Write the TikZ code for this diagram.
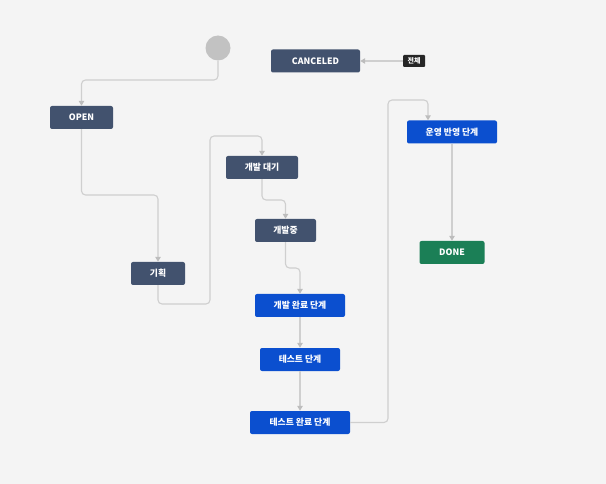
\documentclass[tikz,border=0pt]{standalone}
\usepackage{fontspec}
\setmainfont{Noto Sans CJK KR}
\usetikzlibrary{arrows.meta}
\definecolor{bg}{HTML}{F4F4F4}
\definecolor{darkst}{HTML}{42526E}
\definecolor{bluest}{HTML}{0B4FCF}
\definecolor{greenst}{HTML}{1B7F56}
\definecolor{lineg}{HTML}{CFCFCF}
\definecolor{tipg}{HTML}{BDBDBD}
\definecolor{startg}{HTML}{C2C2C2}
\begin{document}
\begin{tikzpicture}[x=1pt,y=-1pt,
  stbox/.style={rounded corners=2pt, minimum height=23pt, inner sep=0pt, text=white,
    font=\bfseries\fontsize{8.8}{10}\selectfont},
  darkbox/.style={stbox, fill=darkst},
  bluebox/.style={stbox, fill=bluest},
  greenbox/.style={stbox, fill=greenst},
  conn/.style={draw=lineg, line width=1.1pt, rounded corners=4pt,
    -{Triangle[length=5pt,width=5.5pt,color=tipg]}}]
\fill[bg] (0,0) rectangle (606,484);
\useasboundingbox (0,0) rectangle (606,484);

\node[circle, fill=startg, minimum size=25pt, inner sep=0pt] (start) at (218,48) {};
\node[darkbox, minimum width=89pt] (canceled) at (315.5,61) {CANCELED};
\node[rounded corners=1pt, fill=black!85, text=white, inner sep=1.5pt, minimum width=22pt, minimum height=12pt,
  font=\bfseries\fontsize{7}{8}\selectfont] (all) at (414,61) {전체};
\node[darkbox, minimum width=63pt] (open) at (81.5,117.5) {OPEN};
\node[darkbox, minimum width=54pt] (plan) at (158,273.5) {기획};
\node[darkbox, minimum width=72pt] (devwait) at (262,167.5) {개발 대기};
\node[darkbox, minimum width=61pt] (deving) at (285.5,230.5) {개발중};
\node[bluebox, minimum width=90pt] (devdone) at (300,305.5) {개발 완료 단계};
\node[bluebox, minimum width=80pt] (test) at (300,359.5) {테스트 단계};
\node[bluebox, minimum width=100pt] (testdone) at (300,422.5) {테스트 완료 단계};
\node[bluebox, minimum width=90pt] (deploy) at (452,132) {운영 반영 단계};
\node[greenbox, minimum width=65pt] (done) at (452,252.5) {DONE};

\coordinate (b1) at (218,80);
\coordinate (b2) at (81,195);
\coordinate (b3) at (210,304);
\coordinate (b4) at (210,136);
\coordinate (b5) at (262,200);
\coordinate (b6) at (285,268);
\coordinate (b7) at (388,422.5);
\coordinate (b8) at (388,100);

\draw[conn] (start.south) -- (start.south |- b1) -| (open.north);
\draw[conn] (all.west) -- (canceled.east);
\draw[conn] (open.south) -- (open.south |- b2) -| (plan.north);
\draw[conn] (plan.south) -- (plan.south |- b3) -- (b3) -- (b4) -| (devwait.north);
\draw[conn] (devwait.south) -- (devwait.south |- b5) -| (deving.north);
\draw[conn] (deving.south) -- (deving.south |- b6) -| (devdone.north);
\draw[conn] (devdone.south) -- (test.north);
\draw[conn] (test.south) -- (testdone.north);
\draw[conn] (testdone.east) -- (b7) -- (b8) -| ([xshift=-24pt]deploy.north);
\draw[conn] (deploy.south) -- (done.north);
\end{tikzpicture}
\end{document}
